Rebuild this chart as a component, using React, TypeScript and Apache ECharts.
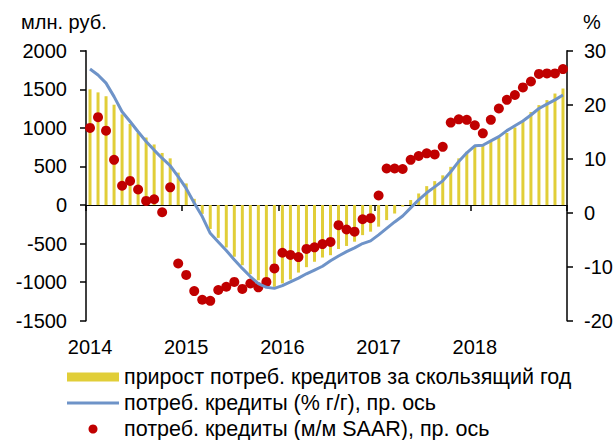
import React, { useEffect, useRef } from "react";
import * as echarts from "echarts";

const years = ["2014", "2015", "2016", "2017", "2018"];
const months = ["01", "02", "03", "04", "05", "06", "07", "08", "09", "10", "11", "12"];
const categories = years.flatMap((y) => months.map((m) => `${y}-${m}`));

// прирост потреб. кредитов за скользящий год (млн. руб., left axis)
const growth12m = [
  1500, 1460, 1410, 1300, 1175, 1050, 935, 875, 785, 675, 605, 420,
  280, 80, -115, -310, -425, -550, -670, -780, -895, -975, -1040, -1060,
  -1015, -965, -875, -805, -735, -680, -650, -570, -530, -475, -390, -345,
  -280, -195, -110, -20, 65, 150, 245, 310, 385, 495, 605, 690,
  755, 775, 820, 875, 935, 1005, 1080, 1205, 1295, 1360, 1445, 1510,
];

// потреб. кредиты (% г/г), right axis
const yoy = [
  26.6, 25.5, 24.0, 21.5, 18.7, 16.9, 15.0, 13.2, 11.6, 10.1, 8.7, 6.7,
  4.5, 1.8, -0.7, -3.8, -5.4, -7.0, -8.7, -10.3, -11.8, -13.1, -13.8, -14.0,
  -13.5, -12.8, -12.1, -11.3, -10.6, -9.9, -8.9, -8.0, -7.2, -6.5, -5.7, -5.2,
  -4.1, -2.9, -1.7, -0.6, 0.9, 2.4, 3.7, 4.8, 5.9, 7.6, 9.5, 11.1,
  12.4, 12.5, 13.3, 14.1, 15.2, 16.1, 17.0, 18.1, 19.3, 20.1, 20.9, 21.8,
];

// потреб. кредиты (м/м SAAR), right axis
const mom = [
  15.7, 17.7, 15.2, 9.8, 5.0, 5.9, 4.3, 2.2, 2.5, 0.1, 4.7, -9.4,
  -11.5, -14.5, -16.1, -16.3, -14.3, -13.7, -12.8, -14.1, -13.1, -13.8, -12.8, -10.3,
  -7.4, -7.8, -8.2, -6.7, -6.4, -5.8, -5.4, -2.3, -3.1, -3.5, -1.2, -1.0,
  3.2, 8.2, 8.2, 8.1, 9.8, 10.5, 11.0, 10.8, 12.2, 16.7, 17.3, 17.2,
  16.2, 14.7, 17.2, 19.3, 20.9, 21.8, 23.2, 24.3, 25.7, 25.8, 25.8, 26.6,
];

const leftTicks = { min: -1500, max: 2000, interval: 500 };
const rightTicks = { min: -20, max: 30, interval: 10 };

const names = [
  "прирост потреб. кредитов за скользящий год",
  "потреб. кредиты (% г/г), пр. ось",
  "потреб. кредиты (м/м SAAR), пр. ось",
];

const FONT = "'Liberation Sans', Arial, sans-serif";
const YELLOW = "#E1CE38";
const BLUE = "#6E93C8";
const RED = "#C00000";

export default function App() {
  const ref = useRef<HTMLDivElement>(null);
  useEffect(() => {
    if (!ref.current) return;
    const chart = echarts.init(ref.current, null, { renderer: "svg" });
    chart.setOption({
      animation: false,
      textStyle: { fontFamily: FONT },
      grid: {
        left: 86,
        right: 49,
        top: 50.7,
        bottom: 119.2,
        containLabel: false,
        outerBoundsMode: "none",
      },
      xAxis: {
        type: "category",
        data: categories,
        boundaryGap: true,
        axisLine: { show: true, onZero: true, lineStyle: { color: "#000", width: 1 } },
        axisTick: {
          show: true,
          length: 6,
          interval: (i: number) => i % 12 === 0,
          lineStyle: { color: "#000", width: 1.5 },
        },
        axisLabel: {
          show: true,
          interval: (i: number) => i % 12 === 0,
          formatter: (v: string) => v.slice(0, 4),
          margin: 16,
          fontSize: 20,
          color: "#000",
          fontFamily: FONT,
        },
        splitLine: { show: false },
      },
      yAxis: [
        {
          type: "value",
          ...leftTicks,
          position: "left",
          axisLine: { show: true, lineStyle: { color: "#000", width: 1.5 } },
          axisTick: { show: true, length: 6, lineStyle: { color: "#000", width: 1.5 } },
          axisLabel: {
            margin: 19,
            fontSize: 20,
            color: "#000",
            fontFamily: FONT,
            formatter: (v: number) => String(v),
          },
          splitLine: { show: false },
        },
        {
          type: "value",
          ...rightTicks,
          position: "right",
          axisLine: { show: true, lineStyle: { color: "#000", width: 1.5 } },
          axisTick: { show: true, length: 6, lineStyle: { color: "#000", width: 1.5 } },
          axisLabel: {
            margin: 17,
            fontSize: 20,
            color: "#000",
            fontFamily: FONT,
            formatter: (v: number) => String(v),
          },
          splitLine: { show: false },
        },
      ],
      legend: {
        orient: "vertical",
        left: 67,
        top: 366,
        itemWidth: 52,
        itemHeight: 9,
        itemGap: 4,
        padding: 0,
        textStyle: { fontSize: 21.5, color: "#000", fontFamily: FONT },
        data: [
          { name: names[0], icon: "rect" },
          { name: names[1], icon: "path://M0,0 L54,0 L54,3 L0,3 Z" },
          { name: names[2], icon: "circle" },
        ],
      },
      graphic: [
        {
          type: "text",
          left: 21,
          top: 12,
          style: { text: "млн. руб.", fontSize: 20, fill: "#000", fontFamily: FONT },
        },
        {
          type: "text",
          left: 583,
          top: 12,
          style: { text: "%", fontSize: 20, fill: "#000", fontFamily: FONT },
        },
      ],
      series: [
        {
          name: names[0],
          type: "bar",
          data: growth12m,
          yAxisIndex: 0,
          barWidth: 3,
          itemStyle: { color: YELLOW },
        },
        {
          name: names[1],
          type: "line",
          data: yoy,
          yAxisIndex: 1,
          showSymbol: false,
          symbol: "none",
          lineStyle: { color: BLUE, width: 3 },
          itemStyle: { color: BLUE },
        },
        {
          name: names[2],
          type: "scatter",
          data: mom,
          yAxisIndex: 1,
          symbolSize: 10,
          itemStyle: { color: RED, opacity: 1 },
        },
      ],
    });
    return () => chart.dispose();
  }, []);
  return (
    <div
      ref={ref}
      style={{ position: "fixed", left: 0, top: 0, width: 616, height: 440, background: "#fff" }}
    />
  );
}
